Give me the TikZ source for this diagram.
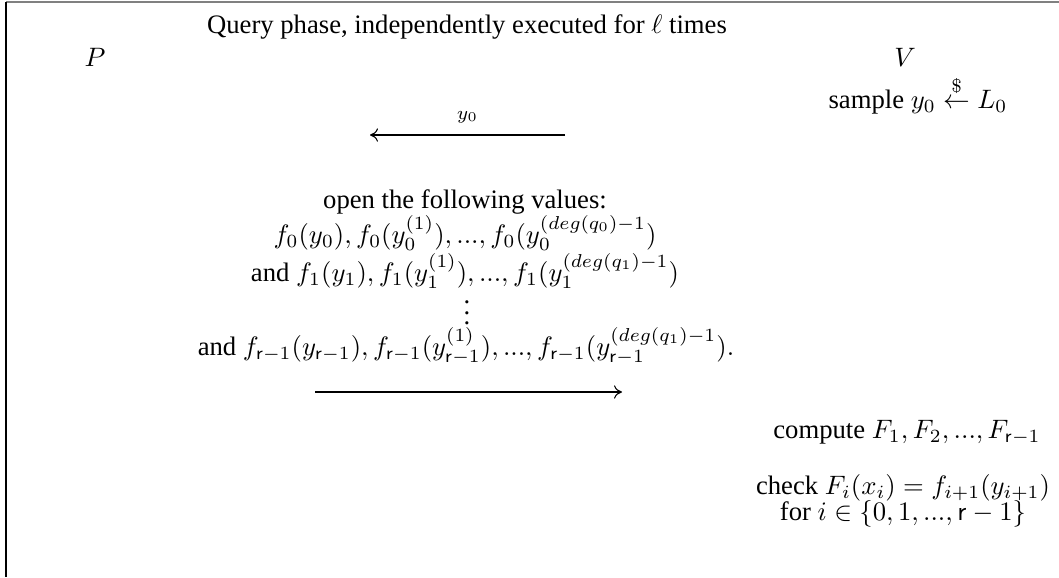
\documentclass[tikz,border=0pt]{standalone}
\usepackage[no-math]{fontspec}
\setmainfont{Liberation Serif}
\usetikzlibrary{arrows.meta}
\begin{document}
\begin{tikzpicture}[x=0.375pt,y=-0.375pt,
  txt/.style={inner sep=0pt,anchor=base},
  msg/.style={line width=0.4pt,-{Computer Modern Rightarrow[length=3pt,width=5pt]}},
  frame/.style={line width=0.8pt}]
\useasboundingbox (0,0) rectangle (1059,577);
\draw[frame,gray] (6,2) coordinate (tl) -- (1059,2) coordinate (tr);
\draw[frame] (tl) -- (6,577) coordinate (bl);
\node[txt] (title) at (467,33) {Query phase, independently executed for $\ell$ times};
\node[txt] (P) at (95,66) {$P$};
\node[txt] (V) at (905,66) {$V$};
\node[txt] (sample) at (918,108) {sample $y_0 \stackrel{\$}{\leftarrow} L_0$};
\coordinate (a1s) at (565,135);
\coordinate (a1e) at (370,135);
\draw[msg] (a1s) -- node[above=1pt,font=\scriptsize] (lab1) {$y_0$} (a1e);
\node[txt] (open) at (465,208) {open the following values:};
\node[txt] (l1) at (465,243) {$f_0(y_0), f_0(y_0^{(1)}), ..., f_0(y_0^{(deg(q_0)-1})$};
\node[txt] (l2) at (465,281) {and $f_1(y_1), f_1(y_1^{(1)}), ..., f_1(y_1^{(deg(q_1)-1})$};
\node[inner sep=0pt] (dots) at (467,305) {$\vdots$};
\node[txt] (l3) at (466,355) {and $f_{\mathsf{r}-1}(y_{\mathsf{r}-1}), f_{\mathsf{r}-1}(y_{\mathsf{r}-1}^{(1)}), ..., f_{\mathsf{r}-1}(y_{\mathsf{r}-1}^{(deg(q_1)-1}).$};
\coordinate (a2s) at (315,392);
\coordinate (a2e) at (622,392);
\draw[msg] (a2s) -- (a2e);
\node[txt] (compute) at (907,438) {compute $F_1, F_2, ..., F_{\mathsf{r}-1}$};
\node[txt] (check) at (903,494) {check $F_i(x_i) = f_{i+1}(y_{i+1})$};
\node[txt] (for) at (903,520) {for $i \in \{0, 1, ..., \mathsf{r}-1\}$};
\end{tikzpicture}
\end{document}
